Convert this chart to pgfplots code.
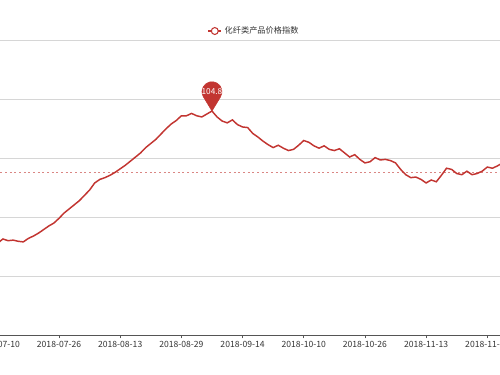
\documentclass[border=0pt]{standalone}
\usepackage{fontspec}
\setmainfont{Noto Sans CJK SC}
\usepackage{pgfplots}
\usepackage{pgfplotstable}
\pgfplotsset{compat=1.18}
\definecolor{ecred}{HTML}{C23531}
\definecolor{gridc}{HTML}{D6D6D6}
\definecolor{axc}{HTML}{555555}
\definecolor{txt}{HTML}{333333}
\pgfdeclareplotmark{pin}{%
  \fill[ecred] (0pt,0pt) -- (6.42pt,10.63pt) arc[start angle=-31.1, end angle=211.1, radius=7.5pt] -- cycle;%
}
\pgfplotstableread{
i v
0 102.56
1 102.63
2 102.60
3 102.61
4 102.59
5 102.58
6 102.64
7 102.68
8 102.73
9 102.79
10 102.85
11 102.90
12 102.98
13 103.07
14 103.14
15 103.21
16 103.28
17 103.37
18 103.46
19 103.58
20 103.64
21 103.67
22 103.71
23 103.76
24 103.82
25 103.88
26 103.95
27 104.02
28 104.09
29 104.18
30 104.25
31 104.32
32 104.41
33 104.50
34 104.58
35 104.64
36 104.72
37 104.72
38 104.76
39 104.72
40 104.70
41 104.75
42 104.80
43 104.70
44 104.63
45 104.60
46 104.65
47 104.57
48 104.53
49 104.52
50 104.42
51 104.36
52 104.29
53 104.23
54 104.18
55 104.22
56 104.17
57 104.13
58 104.15
59 104.22
60 104.30
61 104.27
62 104.21
63 104.17
64 104.21
65 104.15
66 104.13
67 104.16
68 104.09
69 104.02
70 104.06
71 103.98
72 103.92
73 103.94
74 104.01
75 103.97
76 103.98
77 103.96
78 103.92
79 103.81
80 103.72
81 103.67
82 103.68
83 103.64
84 103.58
85 103.63
86 103.60
87 103.71
88 103.83
89 103.81
90 103.74
91 103.72
92 103.78
93 103.72
94 103.74
95 103.78
96 103.85
97 103.83
98 103.87
99 103.92
}\pricedata
\begin{document}
\begin{tikzpicture}
\useasboundingbox (0,0) rectangle (375pt,281.25pt);
\clip (0,0) rectangle (375pt,281.25pt);
\begin{axis}[
  at={(-5.45pt,30pt)}, anchor=south west,
  scale only axis, width=380.45pt, height=221pt,
  xmin=-1, xmax=98.49, ymin=101, ymax=106,
  axis x line*=bottom, axis y line*=left,
  x axis line style={draw=axc, line width=0.6pt},
  y axis line style={draw=none},
  ytick={101,102,103,104,105,106}, yticklabels={},
  ymajorgrids=true,
  major grid style={draw=gridc, line width=0.6pt},
  xtick={0,12,24,36,48,60,72,84,96},
  xticklabels={2018-07-10,2018-07-26,2018-08-13,2018-08-29,2018-09-14,2018-10-10,2018-10-26,2018-11-13,2018-11-29},
  xtick pos=bottom, ytick pos=left, tick align=outside,
  major tick length=2.5pt,
  xtick style={draw=axc, line width=0.6pt},
  ytick style={draw=none},
  xticklabel style={font=\fontsize{6.45pt}{7pt}\selectfont, text=txt, yshift=1pt},
  legend style={at={(0.5,1)}, anchor=center, yshift=7pt, xshift=6pt, draw=none, fill=none,
    font=\fontsize{6.15pt}{7pt}\selectfont, text=txt},
  legend image code/.code={%
    \draw[#1, line width=0.8pt] (0pt,0pt) -- (10pt,0pt);
    \draw[#1, fill=white, line width=0.8pt] (5pt,0pt) circle (2.6pt);},
]
\addplot[forget plot, ecred!60, line width=0.75pt, dash pattern=on 1.5pt off 2pt] coordinates {(-5,103.755) (105,103.755)};
\addplot[ecred, line width=1.1pt, no marks] table[x=i, y=v] {\pricedata};
\addlegendentry{化纤类产品价格指数}
\addplot[forget plot, only marks, mark=pin, point meta=explicit symbolic,
  nodes near coords, nodes near coords style={anchor=center, yshift=14.5pt, text=white, inner sep=0pt, font=\fontsize{6.2pt}{7pt}\selectfont}]
  coordinates {(42,104.8) [104.8]};
\end{axis}
\end{tikzpicture}
\end{document}
